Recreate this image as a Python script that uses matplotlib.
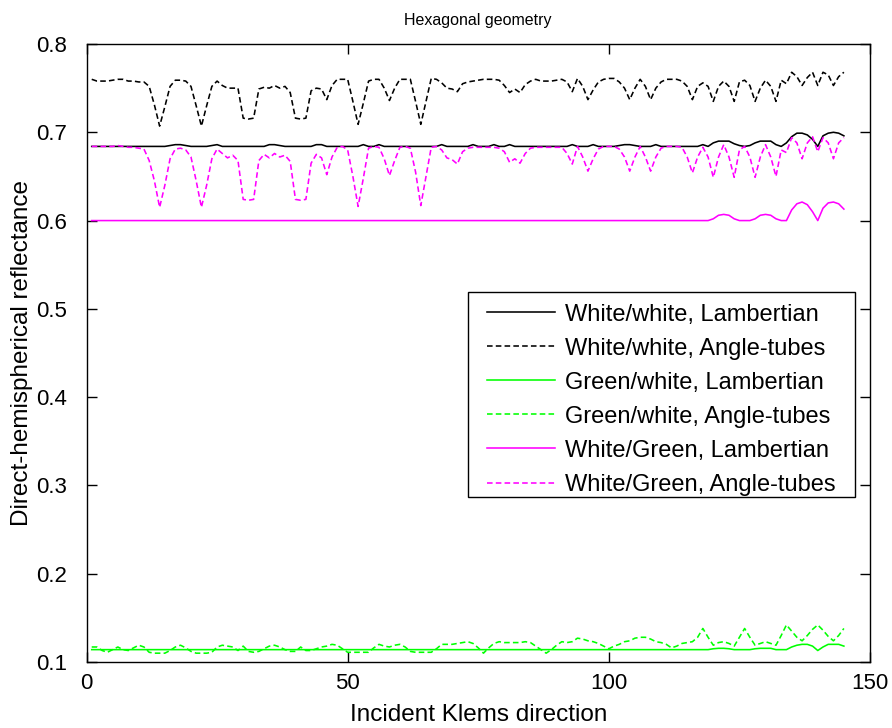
import numpy as np
import matplotlib
matplotlib.use("Agg")
import matplotlib.pyplot as plt
from matplotlib.patches import Rectangle

plt.rcParams['font.family'] = ['Liberation Sans', 'DejaVu Sans']

# Klems incident directions 1..145
directions = np.arange(1, 146)

ww_lambertian = [
    0.684, 0.684, 0.684, 0.684, 0.684, 0.684, 0.684, 0.684, 0.684, 0.684,
    0.684, 0.684, 0.684, 0.684, 0.684, 0.685, 0.686, 0.686, 0.685, 0.684,
    0.684, 0.684, 0.684, 0.685, 0.686, 0.684, 0.684, 0.684, 0.684, 0.684,
    0.684, 0.684, 0.684, 0.684, 0.686, 0.686, 0.685, 0.684, 0.684, 0.684,
    0.684, 0.684, 0.684, 0.686, 0.686, 0.684, 0.684, 0.684, 0.684, 0.684,
    0.684, 0.684, 0.686, 0.684, 0.684, 0.686, 0.684, 0.684, 0.684, 0.684,
    0.684, 0.684, 0.684, 0.684, 0.684, 0.684, 0.684, 0.686, 0.684, 0.684,
    0.684, 0.684, 0.684, 0.686, 0.684, 0.684, 0.684, 0.686, 0.684, 0.684,
    0.686, 0.684, 0.684, 0.684, 0.684, 0.684, 0.684, 0.684, 0.684, 0.684,
    0.684, 0.684, 0.686, 0.684, 0.684, 0.684, 0.686, 0.684, 0.684, 0.684,
    0.684, 0.685, 0.686, 0.686, 0.685, 0.684, 0.684, 0.684, 0.686, 0.684,
    0.684, 0.684, 0.684, 0.684, 0.684, 0.684, 0.684, 0.686, 0.684, 0.688,
    0.690, 0.690, 0.690, 0.687, 0.685, 0.684, 0.685, 0.688, 0.690, 0.690,
    0.690, 0.686, 0.684, 0.688, 0.695, 0.699, 0.699, 0.697, 0.692, 0.684,
    0.696, 0.699, 0.700, 0.699, 0.696,
]

ww_angle_tubes = [
    0.760, 0.758, 0.758, 0.758, 0.759, 0.760, 0.760, 0.758, 0.758, 0.757,
    0.757, 0.752, 0.731, 0.707, 0.729, 0.752, 0.759, 0.759, 0.758, 0.752,
    0.730, 0.707, 0.730, 0.752, 0.758, 0.753, 0.750, 0.750, 0.750, 0.716,
    0.715, 0.716, 0.749, 0.751, 0.750, 0.753, 0.750, 0.752, 0.745, 0.716,
    0.715, 0.716, 0.747, 0.750, 0.749, 0.737, 0.753, 0.760, 0.760, 0.760,
    0.735, 0.709, 0.733, 0.758, 0.760, 0.760, 0.750, 0.736, 0.750, 0.760,
    0.760, 0.760, 0.735, 0.709, 0.735, 0.761, 0.760, 0.756, 0.750, 0.749,
    0.746, 0.755, 0.757, 0.758, 0.759, 0.760, 0.760, 0.760, 0.759, 0.753,
    0.745, 0.749, 0.745, 0.754, 0.758, 0.760, 0.758, 0.758, 0.758, 0.759,
    0.760, 0.757, 0.746, 0.761, 0.752, 0.737, 0.748, 0.757, 0.760, 0.761,
    0.761, 0.757, 0.750, 0.737, 0.750, 0.760, 0.752, 0.737, 0.750, 0.757,
    0.760, 0.760, 0.760, 0.758, 0.752, 0.737, 0.752, 0.756, 0.752, 0.735,
    0.752, 0.758, 0.752, 0.735, 0.757, 0.759, 0.753, 0.735, 0.750, 0.759,
    0.752, 0.735, 0.759, 0.755, 0.768, 0.763, 0.753, 0.762, 0.768, 0.753,
    0.768, 0.765, 0.753, 0.763, 0.768,
]

gw_lambertian = [
    0.114, 0.114, 0.114, 0.114, 0.114, 0.114, 0.114, 0.114, 0.114, 0.114,
    0.114, 0.114, 0.114, 0.114, 0.114, 0.114, 0.114, 0.114, 0.114, 0.114,
    0.114, 0.114, 0.114, 0.114, 0.114, 0.114, 0.114, 0.114, 0.114, 0.114,
    0.114, 0.114, 0.114, 0.114, 0.114, 0.114, 0.114, 0.114, 0.114, 0.114,
    0.114, 0.114, 0.114, 0.114, 0.114, 0.114, 0.114, 0.114, 0.114, 0.114,
    0.114, 0.114, 0.114, 0.114, 0.114, 0.114, 0.114, 0.114, 0.114, 0.114,
    0.114, 0.114, 0.114, 0.114, 0.114, 0.114, 0.114, 0.114, 0.114, 0.114,
    0.114, 0.114, 0.114, 0.114, 0.114, 0.114, 0.114, 0.114, 0.114, 0.114,
    0.114, 0.114, 0.114, 0.114, 0.114, 0.114, 0.114, 0.114, 0.114, 0.114,
    0.114, 0.114, 0.114, 0.114, 0.114, 0.114, 0.114, 0.114, 0.114, 0.114,
    0.114, 0.114, 0.114, 0.114, 0.114, 0.114, 0.114, 0.114, 0.114, 0.114,
    0.114, 0.114, 0.114, 0.114, 0.114, 0.114, 0.114, 0.114, 0.114, 0.115,
    0.1155, 0.1155, 0.115, 0.114, 0.114, 0.114, 0.114, 0.115, 0.1155, 0.1155,
    0.1155, 0.114, 0.114, 0.114, 0.117, 0.119, 0.120, 0.120, 0.118, 0.113,
    0.117, 0.120, 0.120, 0.120, 0.118,
]

gw_angle_tubes = [
    0.117, 0.117, 0.113, 0.111, 0.114, 0.117, 0.114, 0.113, 0.116, 0.119,
    0.117, 0.111, 0.110, 0.110, 0.110, 0.113, 0.117, 0.119, 0.116, 0.112,
    0.110, 0.110, 0.110, 0.111, 0.117, 0.119, 0.118, 0.117, 0.113, 0.118,
    0.112, 0.111, 0.112, 0.115, 0.118, 0.119, 0.117, 0.114, 0.112, 0.112,
    0.117, 0.113, 0.113, 0.115, 0.117, 0.118, 0.120, 0.119, 0.115, 0.111,
    0.111, 0.111, 0.111, 0.111, 0.116, 0.120, 0.118, 0.117, 0.119, 0.120,
    0.117, 0.112, 0.111, 0.111, 0.111, 0.111, 0.115, 0.120, 0.120, 0.120,
    0.121, 0.122, 0.123, 0.121, 0.116, 0.110, 0.116, 0.121, 0.123, 0.122,
    0.122, 0.122, 0.122, 0.123, 0.122, 0.118, 0.114, 0.110, 0.114, 0.119,
    0.123, 0.122, 0.123, 0.127, 0.126, 0.124, 0.123, 0.121, 0.118, 0.115,
    0.118, 0.120, 0.123, 0.124, 0.127, 0.128, 0.128, 0.126, 0.123, 0.122,
    0.120, 0.116, 0.118, 0.121, 0.122, 0.123, 0.128, 0.138, 0.128, 0.119,
    0.122, 0.123, 0.121, 0.118, 0.128, 0.138, 0.128, 0.119, 0.121, 0.123,
    0.121, 0.119, 0.130, 0.142, 0.135, 0.128, 0.124, 0.130, 0.137, 0.142,
    0.136, 0.129, 0.124, 0.130, 0.138,
]

wg_lambertian = [
    0.600, 0.600, 0.600, 0.600, 0.600, 0.600, 0.600, 0.600, 0.600, 0.600,
    0.600, 0.600, 0.600, 0.600, 0.600, 0.600, 0.600, 0.600, 0.600, 0.600,
    0.600, 0.600, 0.600, 0.600, 0.600, 0.600, 0.600, 0.600, 0.600, 0.600,
    0.600, 0.600, 0.600, 0.600, 0.600, 0.600, 0.600, 0.600, 0.600, 0.600,
    0.600, 0.600, 0.600, 0.600, 0.600, 0.600, 0.600, 0.600, 0.600, 0.600,
    0.600, 0.600, 0.600, 0.600, 0.600, 0.600, 0.600, 0.600, 0.600, 0.600,
    0.600, 0.600, 0.600, 0.600, 0.600, 0.600, 0.600, 0.600, 0.600, 0.600,
    0.600, 0.600, 0.600, 0.600, 0.600, 0.600, 0.600, 0.600, 0.600, 0.600,
    0.600, 0.600, 0.600, 0.600, 0.600, 0.600, 0.600, 0.600, 0.600, 0.600,
    0.600, 0.600, 0.600, 0.600, 0.600, 0.600, 0.600, 0.600, 0.600, 0.600,
    0.600, 0.600, 0.600, 0.600, 0.600, 0.600, 0.600, 0.600, 0.600, 0.600,
    0.600, 0.600, 0.600, 0.600, 0.600, 0.600, 0.600, 0.600, 0.600, 0.602,
    0.606, 0.607, 0.606, 0.602, 0.600, 0.600, 0.600, 0.602, 0.606, 0.607,
    0.606, 0.602, 0.600, 0.600, 0.612, 0.619, 0.621, 0.618, 0.610, 0.600,
    0.614, 0.620, 0.621, 0.619, 0.613,
]

wg_angle_tubes = [
    0.684, 0.684, 0.684, 0.684, 0.684, 0.685, 0.684, 0.683, 0.683, 0.682,
    0.681, 0.668, 0.645, 0.615, 0.640, 0.670, 0.681, 0.682, 0.680, 0.672,
    0.645, 0.615, 0.640, 0.670, 0.681, 0.676, 0.671, 0.674, 0.668, 0.624,
    0.623, 0.624, 0.668, 0.675, 0.671, 0.676, 0.672, 0.674, 0.667, 0.624,
    0.623, 0.624, 0.665, 0.675, 0.671, 0.652, 0.672, 0.683, 0.684, 0.680,
    0.650, 0.616, 0.648, 0.682, 0.684, 0.683, 0.670, 0.651, 0.668, 0.683,
    0.684, 0.682, 0.655, 0.617, 0.650, 0.683, 0.684, 0.680, 0.671, 0.669,
    0.664, 0.678, 0.682, 0.683, 0.683, 0.683, 0.683, 0.683, 0.682, 0.678,
    0.666, 0.670, 0.665, 0.676, 0.682, 0.683, 0.683, 0.683, 0.683, 0.683,
    0.683, 0.676, 0.664, 0.684, 0.672, 0.656, 0.670, 0.681, 0.684, 0.684,
    0.684, 0.681, 0.672, 0.656, 0.672, 0.684, 0.672, 0.656, 0.672, 0.682,
    0.684, 0.684, 0.684, 0.683, 0.672, 0.654, 0.672, 0.683, 0.672, 0.649,
    0.672, 0.686, 0.672, 0.649, 0.680, 0.684, 0.672, 0.649, 0.672, 0.686,
    0.672, 0.650, 0.680, 0.677, 0.694, 0.688, 0.670, 0.688, 0.695, 0.678,
    0.694, 0.688, 0.670, 0.688, 0.694,
]

series_labels = [
    "White/white, Lambertian",
    "White/white, Angle-tubes",
    "Green/white, Lambertian",
    "Green/white, Angle-tubes",
    "White/Green, Lambertian",
    "White/Green, Angle-tubes",
]

x_ticks = [0, 50, 100, 150]
y_ticks = [0.1, 0.2, 0.3, 0.4, 0.5, 0.6, 0.7, 0.8]

fig = plt.figure(figsize=(8.92, 7.28), dpi=100)
ax = fig.add_axes([86.5 / 892, 66 / 728, 783.5 / 892, 618 / 728])

dash = (3.5, 2.0)
lw = 1.15
ax.plot(directions, ww_lambertian, color="black", lw=lw, label=series_labels[0])
ax.plot(directions, ww_angle_tubes, color="black", lw=lw, dashes=dash, label=series_labels[1])
ax.plot(directions, gw_lambertian, color="#00ff00", lw=lw, label=series_labels[2])
ax.plot(directions, gw_angle_tubes, color="#00ff00", lw=lw, dashes=dash, label=series_labels[3])
ax.plot(directions, wg_lambertian, color="#ff00ff", lw=lw, label=series_labels[4])
ax.plot(directions, wg_angle_tubes, color="#ff00ff", lw=lw, dashes=dash, label=series_labels[5])

ax.set_xlim(0, 150)
ax.set_ylim(0.1, 0.8)
ax.set_xticks(x_ticks)
ax.set_yticks(y_ticks)
ax.set_xticklabels([str(t) for t in x_ticks])
ax.set_yticklabels([f"{t:.1f}" for t in y_ticks])
ax.tick_params(direction="in", length=7, width=1, top=True, right=True,
               labelsize=16)
ax.tick_params(axis="x", pad=8)
ax.tick_params(axis="y", pad=14)
for s in ax.spines.values():
    s.set_linewidth(1.0)

ax.set_title("Hexagonal geometry", fontsize=11.5, pad=14)
ax.set_xlabel("Incident Klems direction", fontsize=17.5, labelpad=7)
ax.set_ylabel("Direct-hemispherical reflectance", fontsize=17.5, labelpad=2)

# legend box with wider side margins
ax.add_patch(Rectangle((0.487, 0.267), 0.494, 0.332, transform=ax.transAxes,
                       facecolor="white", edgecolor="black", lw=1.0, zorder=4))
leg = ax.legend(loc="upper left", bbox_to_anchor=(0.511, 0.580), fontsize=17,
                frameon=False, handlelength=2.88, handletextpad=0.42,
                labelspacing=0.51, borderpad=0, borderaxespad=0)
leg.set_zorder(5)

fig.savefig("out.png", dpi=100)
